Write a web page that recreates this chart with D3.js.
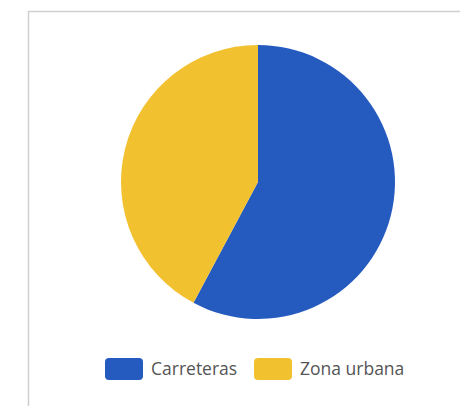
<!DOCTYPE html>
<html>
<head>
<meta charset="utf-8">
<script src="https://cdn.jsdelivr.net/npm/d3@7"></script>
<style>
  html, body { margin: 0; padding: 0; background: #fff; }
  svg { display: block; }
</style>
</head>
<body>
<div id="chart"></div>
<script>
// slices
const categories = ["Carreteras", "Zona urbana"];
const values = [57.8, 42.2];
const colors = ["#255bbf", "#f1c12f"];

const width = 460, height = 406;
const cx = 258, cy = 182, radius = 137;

const svg = d3.select("#chart").append("svg")
    .attr("width", width)
    .attr("height", height);

// frame of the chart area (only top and left edges show)
svg.append("path")
    .attr("d", `M28.5,${height}V11.5H${width}`)
    .attr("fill", "none")
    .attr("stroke", "#cfcfcf")
    .attr("stroke-width", 1.5);

const pie = d3.pie().sort(null).value(d => d.value);
const arc = d3.arc().innerRadius(0).outerRadius(radius);

const data = categories.map((c, i) => ({ name: c, value: values[i] }));
const color = d3.scaleOrdinal().domain(categories).range(colors);

svg.append("g")
    .attr("transform", `translate(${cx},${cy})`)
    .selectAll("path")
    .data(pie(data))
    .join("path")
    .attr("d", arc)
    .attr("fill", d => color(d.data.name));

// legend
const legendX = [105, 254];
const legend = svg.append("g")
    .attr("font-family", "'Open Sans', 'Noto Sans', sans-serif")
    .attr("font-size", 17.5)
    .selectAll("g")
    .data(categories)
    .join("g")
    .attr("transform", (d, i) => `translate(${legendX[i]},358)`);

legend.append("rect")
    .attr("width", 38)
    .attr("height", 22)
    .attr("rx", 4)
    .attr("fill", d => color(d));

legend.append("text")
    .attr("x", 46)
    .attr("y", 11)
    .attr("dy", "0.35em")
    .attr("fill", "#555")
    .text(d => d);
</script>
</body>
</html>
